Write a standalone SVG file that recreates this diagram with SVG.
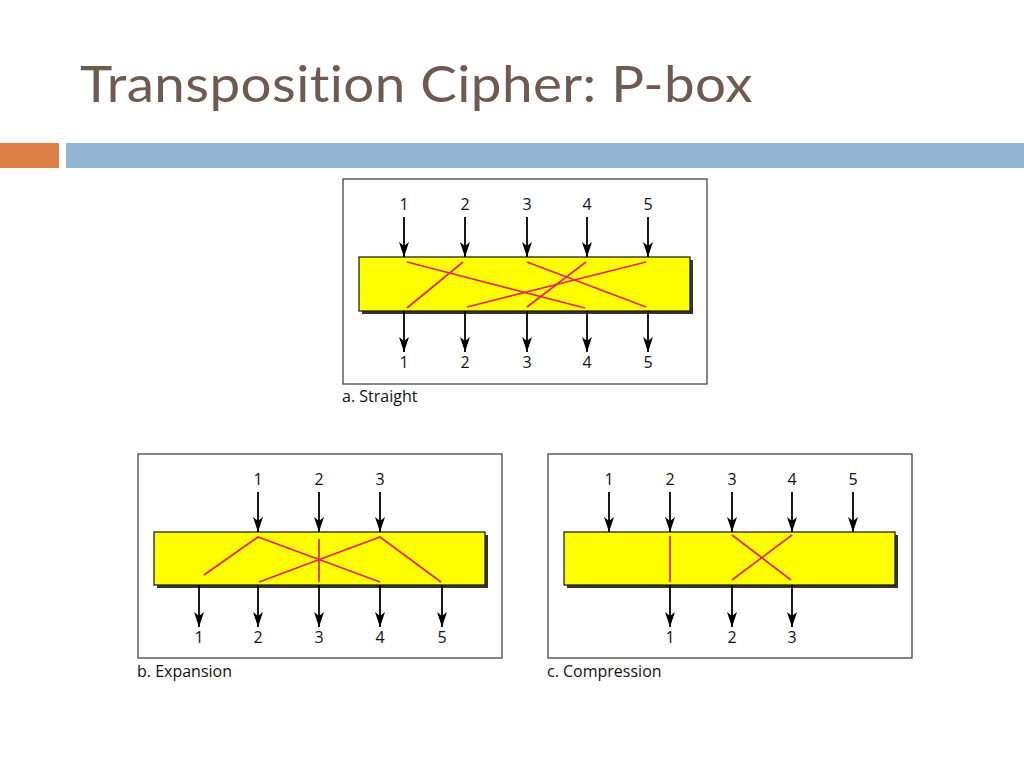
<svg xmlns="http://www.w3.org/2000/svg" width="1024" height="768" viewBox="0 0 1024 768">
<defs>
<style>
.title{font-family:"Lato","Open Sans","Liberation Sans",sans-serif;font-size:51px;fill:#6e5a50;font-variant-ligatures:none;font-feature-settings:"liga" 0,"clig" 0,"dlig" 0;letter-spacing:0.4px}
.num{font-family:"Open Sans","Liberation Sans",sans-serif;font-size:16px;fill:#111;text-anchor:middle}
.cap{font-family:"Open Sans","Liberation Sans",sans-serif;font-size:16px;fill:#111}
.frame{fill:#fff;stroke:#444;stroke-width:1.3}
.box{fill:#ffff00;stroke:#222;stroke-width:1.3}
.shadow{fill:#333}
.arr{stroke:#000;stroke-width:1.8;fill:none;marker-end:url(#ah)}
.red{stroke:#e8265a;stroke-width:1.8;fill:none}
</style>
<marker id="ah" markerWidth="16" markerHeight="10" refX="15" refY="5" orient="auto" markerUnits="userSpaceOnUse" viewBox="0 0 16 10">
<path d="M0,0 L15,5 L0,10 L4,5 Z" fill="#000"/>
</marker>
</defs>
<rect width="1024" height="768" fill="#fff"/>
<g id="header">
<text class="title" x="80" y="102" textLength="673" lengthAdjust="spacingAndGlyphs">Transposition Cipher: P-box</text>
<rect x="0" y="143" width="59" height="25" fill="#dd8046"/>
<rect x="66" y="143" width="958" height="25" fill="#92b5d4"/>
</g>

<g id="panel-a">
<rect class="frame" x="343" y="179" width="364" height="205"/>
<rect class="shadow" x="362" y="260" width="331" height="54"/>
<rect class="box" x="359" y="257" width="331" height="54"/>
<g class="num">
<text x="404" y="210">1</text><text x="465" y="210">2</text><text x="527" y="210">3</text><text x="587" y="210">4</text><text x="648" y="210">5</text>
<text x="404" y="368">1</text><text x="465" y="368">2</text><text x="527" y="368">3</text><text x="587" y="368">4</text><text x="648" y="368">5</text>
</g>
<text class="cap" x="342" y="402">a. Straight</text>
</g>

<g id="panel-b">
<rect class="frame" x="138" y="454" width="364" height="204"/>
<rect class="shadow" x="157" y="535" width="331" height="53"/>
<rect class="box" x="154" y="532" width="331" height="53"/>
<g class="num">
<text x="258" y="485">1</text><text x="319" y="485">2</text><text x="380" y="485">3</text>
<text x="199" y="643">1</text><text x="258" y="643">2</text><text x="319" y="643">3</text><text x="380" y="643">4</text><text x="442" y="643">5</text>
</g>
<text class="cap" x="137" y="677">b. Expansion</text>
</g>

<g id="panel-c">
<rect class="frame" x="548" y="454" width="364" height="204"/>
<rect class="shadow" x="567" y="535" width="331" height="53"/>
<rect class="box" x="564" y="532" width="331" height="53"/>
<g class="num">
<text x="609" y="485">1</text><text x="670" y="485">2</text><text x="732" y="485">3</text><text x="792" y="485">4</text><text x="853" y="485">5</text>
<text x="670" y="643">1</text><text x="732" y="643">2</text><text x="792" y="643">3</text>
</g>
<text class="cap" x="547" y="677">c. Compression</text>
</g>

<g id="connectors">
<path class="arr" d="M404,217V257"/><path class="arr" d="M465,217V257"/><path class="arr" d="M527,217V257"/><path class="arr" d="M587,217V257"/><path class="arr" d="M648,217V257"/>
<path class="arr" d="M404,311V352"/><path class="arr" d="M465,311V352"/><path class="arr" d="M527,311V352"/><path class="arr" d="M587,311V352"/><path class="arr" d="M648,311V352"/>
<path class="red" d="M407,262L585,308"/>
<path class="red" d="M463,262L407,308"/>
<path class="red" d="M527,262L646,307"/>
<path class="red" d="M586,262L527,307"/>
<path class="red" d="M646,262L467,307"/>
<path class="arr" d="M258,492V532"/><path class="arr" d="M319,492V532"/><path class="arr" d="M380,492V532"/>
<path class="arr" d="M199,585V627"/><path class="arr" d="M258,585V627"/><path class="arr" d="M319,585V627"/><path class="arr" d="M380,585V627"/><path class="arr" d="M442,585V627"/>
<path class="red" d="M204,575L258,537L380,582"/>
<path class="red" d="M319,539V582"/>
<path class="red" d="M259,582L380,537L441,582"/>
<path class="arr" d="M609,492V532"/><path class="arr" d="M670,492V532"/><path class="arr" d="M732,492V532"/><path class="arr" d="M792,492V532"/><path class="arr" d="M853,492V532"/>
<path class="arr" d="M670,585V627"/><path class="arr" d="M732,585V627"/><path class="arr" d="M792,585V627"/>
<path class="red" d="M670,536V582"/>
<path class="red" d="M732,535L791,580"/>
<path class="red" d="M792,535L732,580"/>
</g>
</svg>
